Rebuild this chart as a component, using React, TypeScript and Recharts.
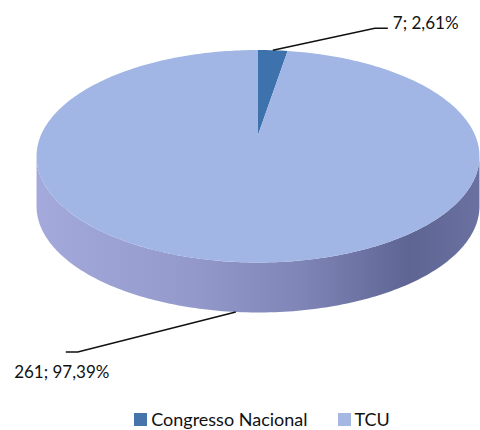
import React from 'react';
import { PieChart, Pie, Cell, Legend, Tooltip } from 'recharts';

const categories = ['Congresso Nacional', 'TCU'];
const values = [7, 261];
const colors = ['#3e72ad', '#a1b6e4'];
const legendColors = ['#4573ab', '#a4b8e3'];

const data = categories.map((name, i) => ({ name, value: values[i] }));

const W = 480;
const H = 430;
const TILT = 0.47;
const PERSP = 0.2;
const DEPTH = 50;
const FONT = 'Lato, "Open Sans", sans-serif';

const proj = (cx: number, cy: number, r: number, a: number): [number, number] => {
  const rad = (a * Math.PI) / 180;
  const w = 1 + PERSP * Math.sin(rad);
  return [cx + (r * Math.cos(rad)) / w, cy - (r * TILT * Math.sin(rad)) / w];
};

const rim = (cx: number, cy: number, r: number, a1: number, a2: number) => {
  const n = Math.max(2, Math.ceil(Math.abs(a2 - a1)));
  const pts: [number, number][] = [];
  for (let i = 0; i <= n; i++) pts.push(proj(cx, cy, r, a1 + ((a2 - a1) * i) / n));
  return pts;
};

const EDGE = (Math.asin(PERSP) * 180) / Math.PI;

const Sector3D = (props: any) => {
  const { cx, cy, outerRadius, startAngle, endAngle, fill } = props;
  const lo = Math.min(startAngle, endAngle);
  const hi = Math.max(startAngle, endAngle);
  const sides: string[] = [];
  for (let k = -3; k <= 2; k++) {
    const i1 = Math.max(lo, 180 + EDGE + 360 * k);
    const i2 = Math.min(hi, 360 - EDGE + 360 * k);
    if (i2 > i1) {
      const top = rim(cx, cy, outerRadius, i1, i2);
      const bottom = top.map(([x, y]) => [x, y + DEPTH] as [number, number]).reverse();
      const all = [...top, ...bottom];
      sides.push('M' + all.map(([x, y]) => `${x.toFixed(2)},${y.toFixed(2)}`).join(' L') + ' Z');
    }
  }
  const pts = rim(cx, cy, outerRadius, startAngle, endAngle);
  const topPath =
    `M${cx},${cy} L` + pts.map(([x, y]) => `${x.toFixed(2)},${y.toFixed(2)}`).join(' L') + ' Z';
  return (
    <g>
      <defs>
        <linearGradient
          id="pie-side-grad"
          gradientUnits="userSpaceOnUse"
          x1={cx - outerRadius}
          y1={0}
          x2={cx + outerRadius}
          y2={0}
        >
          <stop offset="0%" stopColor="#a3a9da" />
          <stop offset="35%" stopColor="#9399cb" />
          <stop offset="60%" stopColor="#7f85b6" />
          <stop offset="85%" stopColor="#5e6593" />
          <stop offset="100%" stopColor="#6a71a0" />
        </linearGradient>
      </defs>
      {sides.map((d, i) => (
        <path key={i} d={d} fill="url(#pie-side-grad)" stroke="none" />
      ))}
      <path d={topPath} fill={fill} stroke="none" />
    </g>
  );
};

const renderLabel = (props: any) => {
  const { cx, cy, midAngle, outerRadius, value, percent } = props;
  const rad = (midAngle * Math.PI) / 180;
  const front = Math.sin(rad) < 0;
  let [ax, ay] = proj(cx, cy, outerRadius, midAngle);
  if (front) ay += DEPTH;
  const text = `${value}; ${(percent * 100).toFixed(2).replace('.', ',')}%`;
  if (!front) {
    const ex = ax + 102;
    const ey = ay - 22;
    return (
      <g>
        <polyline
          points={`${ax},${ay} ${ex},${ey} ${ex + 13},${ey}`}
          stroke="#111"
          strokeWidth={1.6}
          fill="none"
        />
        <text x={ex + 18} y={ey + 1} fontFamily={FONT} fontSize={17} fill="#111" textAnchor="start">
          {text}
        </text>
      </g>
    );
  }
  const ex = ax - 158;
  const ey = ay + 40;
  return (
    <g>
      <polyline
        points={`${ax},${ay} ${ex},${ey} ${ex - 12},${ey}`}
        stroke="#111"
        strokeWidth={1.6}
        fill="none"
      />
      <text x={ex - 16} y={ey + 26} fontFamily={FONT} fontSize={17} fill="#111" textAnchor="middle">
        {text}
      </text>
    </g>
  );
};

const renderLegend = () => (
  <div
    style={{
      display: 'flex',
      justifyContent: 'center',
      alignItems: 'center',
      fontFamily: FONT,
      fontSize: 18,
      lineHeight: '20px',
      color: '#111',
      paddingLeft: 44,
    }}
  >
    {categories.map((c, i) => (
      <div key={c} style={{ display: 'flex', alignItems: 'center', marginRight: i === 0 ? 30 : 0 }}>
        <span
          style={{
            display: 'inline-block',
            width: 13,
            height: 13,
            background: legendColors[i],
            marginRight: 4,
          }}
        />
        <span>{c}</span>
      </div>
    ))}
  </div>
);

export default function App() {
  return (
    <div style={{ position: 'absolute', left: 0, top: 0, width: W, height: H, background: '#fff', overflow: 'hidden' }}>
      <PieChart width={W} height={H} margin={{ top: 0, right: 0, bottom: 0, left: 0 }}>
        <Pie
          data={data}
          dataKey="value"
          nameKey="name"
          cx={258}
          cy={135}
          outerRadius={217}
          startAngle={90}
          endAngle={-270}
          isAnimationActive={false}
          label={renderLabel}
          labelLine={false}
          stroke="none"
          shape={Sector3D}
          activeShape={Sector3D}
          inactiveShape={Sector3D}
        >
          {data.map((d, i) => (
            <Cell key={d.name} fill={colors[i]} />
          ))}
        </Pie>
        <Tooltip defaultIndex={0} content={() => null} cursor={false} />
        <Legend content={renderLegend} wrapperStyle={{ left: 0, top: 409, width: W }} />
      </PieChart>
    </div>
  );
}
